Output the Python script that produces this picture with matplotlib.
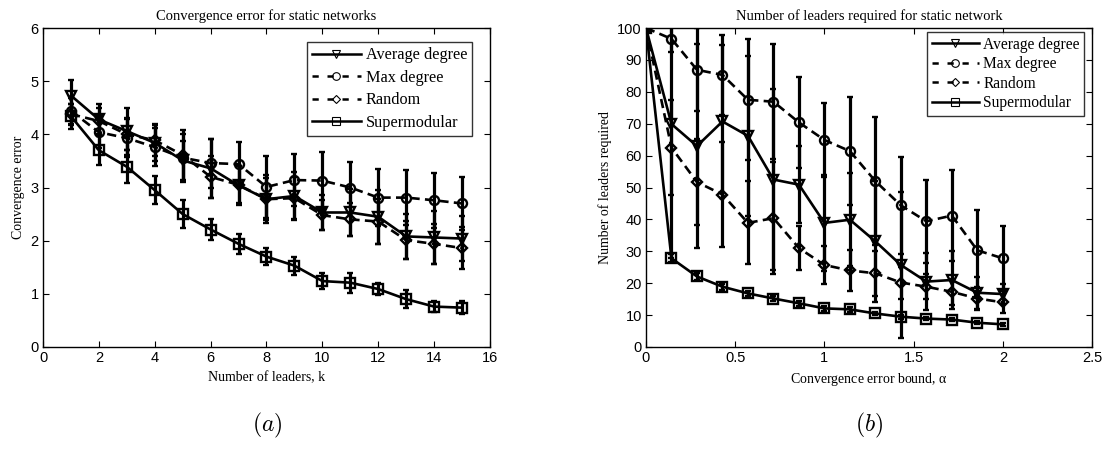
import numpy as np
import matplotlib
matplotlib.use('Agg')
import matplotlib.pyplot as plt
from matplotlib.lines import Line2D

# ---------------- data (a): convergence error vs number of leaders
k = [1, 2, 3, 4, 5, 6, 7, 8, 9, 10, 11, 12, 13, 14, 15]
avg_a = [4.73, 4.28, 4.06, 3.84, 3.51, 3.36, 3.04, 2.78, 2.84, 2.53, 2.53, 2.45, 2.08, 2.06, 2.04]
avg_a_err = [0.30, 0.30, 0.44, 0.34, 0.36, 0.55, 0.37, 0.45, 0.45, 0.33, 0.44, 0.51, 0.43, 0.50, 0.42]
max_a = [4.44, 4.04, 3.93, 3.76, 3.56, 3.46, 3.44, 3.01, 3.14, 3.13, 3.00, 2.81, 2.81, 2.76, 2.70]
max_a_err = [0.25, 0.30, 0.35, 0.35, 0.45, 0.46, 0.42, 0.58, 0.49, 0.53, 0.48, 0.53, 0.52, 0.52, 0.49]
rnd_a = [4.38, 4.25, 4.00, 3.89, 3.61, 3.20, 3.05, 2.78, 2.80, 2.48, 2.40, 2.36, 2.01, 1.94, 1.86]
rnd_a_err = [0.20, 0.25, 0.30, 0.30, 0.48, 0.39, 0.35, 0.40, 0.40, 0.28, 0.31, 0.42, 0.36, 0.38, 0.40]
sup_a = [4.34, 3.70, 3.39, 2.95, 2.50, 2.21, 1.94, 1.70, 1.53, 1.24, 1.21, 1.09, 0.90, 0.76, 0.74]
sup_a_err = [0.24, 0.27, 0.31, 0.26, 0.26, 0.20, 0.19, 0.16, 0.17, 0.15, 0.19, 0.12, 0.17, 0.11, 0.12]

# ---------------- data (b): leaders required vs error bound alpha
alpha = [0, 1/7, 2/7, 3/7, 4/7, 5/7, 6/7, 1, 8/7, 9/7, 10/7, 11/7, 12/7, 13/7, 2]
avg_b = [100, 69.9, 63.0, 70.7, 66.2, 52.5, 50.9, 38.9, 39.9, 33.1, 25.7, 20.5, 21.0, 17.0, 16.6]
avg_b_err = [0, 42, 32, 24, 25, 28.5, 12, 15, 14.5, 19, 23, 9, 9, 5, 3]
max_b = [100, 96.6, 86.9, 85.3, 77.5, 76.9, 70.4, 64.9, 61.4, 52.0, 44.4, 39.4, 41.2, 30.3, 27.8]
max_b_err = [0, 4, 13, 12.5, 19, 18, 14.4, 11.6, 17, 20, 15.3, 13, 14.3, 12.6, 10]
rnd_b = [100, 62.5, 51.7, 47.8, 38.9, 40.4, 31.0, 25.7, 24.0, 23.1, 20.2, 18.9, 17.3, 15.2, 14.0]
rnd_b_err = [0, 15, 13.5, 16.5, 13, 17.5, 7, 6, 6.5, 7, 5, 4, 4, 3.5, 3.5]
sup_b = [100, 27.8, 22.1, 18.9, 16.8, 15.2, 13.7, 12.1, 11.8, 10.5, 9.5, 8.9, 8.6, 7.6, 7.1]
sup_b_err = [0, 1.2, 1.0, 0.9, 0.8, 0.8, 0.8, 0.7, 0.7, 0.6, 0.6, 0.5, 0.5, 0.5, 0.5]

names = ['Average degree', 'Max degree', 'Random', 'Supermodular']

plt.rcParams['font.family'] = ['Liberation Serif', 'DejaVu Serif']
plt.rcParams['mathtext.fontset'] = 'cm'
tickfont = ['Liberation Sans', 'DejaVu Sans']

fig = plt.figure(figsize=(11.09, 4.55), dpi=100)
ax1 = fig.add_axes([0.0388, 0.2374, 0.403, 0.701])
ax2 = fig.add_axes([0.5825, 0.2374, 0.4022, 0.701])

styles = [('v', '-'), ('o', '--'), ('D', '--'), ('s', '-')]
DASH = (3.5, 2)


def draw(ax, x, series, anchor, fsize, spacing):
    handles = []
    for (y, e), (m, ls), name in zip(series, styles, names):
        ms = 6.5 if m != 'D' else 5.5
        dsh = DASH if ls == '--' else (None, None)
        ax.errorbar(x, y, yerr=e, color='black', lw=1.9, ls=ls, dashes=dsh,
                    marker=m, ms=ms, mfc='none', mec='black', mew=1.7,
                    elinewidth=2.3, capsize=2.5, capthick=2.3)
        h = Line2D([], [], color='black', lw=1.8, ls=ls, marker=m,
                   ms=ms - 1, mfc='none', mec='black', mew=0.8, label=name)
        if ls == '--':
            h.set_dashes((2.5, 3.5))
        handles.append(h)
    for s in ax.spines.values():
        s.set_linewidth(1.0)
    ax.tick_params(direction='in', top=True, right=True, length=4, width=0.8, pad=3)
    leg = ax.legend(handles=handles, loc='upper right', bbox_to_anchor=anchor, fontsize=fsize,
                    frameon=True, fancybox=False, edgecolor='black', handlelength=3.0,
                    handletextpad=0.3, borderpad=0.3, labelspacing=spacing, borderaxespad=0.0)
    leg.get_frame().set_linewidth(1.0)


draw(ax1, k, [(avg_a, avg_a_err), (max_a, max_a_err), (rnd_a, rnd_a_err), (sup_a, sup_a_err)],
     (0.96, 0.955), 11.7, 0.4)
ax1.set_xlim(0, 16)
ax1.set_ylim(0, 6)
ax1.set_xticks(range(0, 17, 2))
ax1.set_yticks(range(0, 7))
for lab in ax1.get_xticklabels() + ax1.get_yticklabels():
    lab.set_family(tickfont)
    lab.set_fontsize(10.5)
ax1.set_title('Convergence error for static networks', fontsize=10.5, pad=6)
ax1.set_xlabel('Number of leaders, k', fontsize=10, labelpad=4)
ax1.set_ylabel('Convergence error', fontsize=10, labelpad=4)

draw(ax2, alpha, [(avg_b, avg_b_err), (max_b, max_b_err), (rnd_b, rnd_b_err), (sup_b, sup_b_err)],
     (0.983, 0.987), 11.2, 0.22)
ax2.set_xlim(0, 2.5)
ax2.set_ylim(0, 100)
ax2.set_xticks([0, 0.5, 1, 1.5, 2, 2.5])
ax2.set_xticklabels(['0', '0.5', '1', '1.5', '2', '2.5'])
ax2.set_yticks(range(0, 101, 10))
for lab in ax2.get_xticklabels() + ax2.get_yticklabels():
    lab.set_family(tickfont)
    lab.set_fontsize(10.5)
ax2.set_title('Number of leaders required for static network', fontsize=10.5, pad=6)
ax2.set_xlabel(r'Convergence error bound, $\mathregular{\alpha}$', fontsize=10, labelpad=4)
ax2.set_ylabel('Number of leaders required', fontsize=10, labelpad=4)

fig.text(0.241, 0.065, r'$(a)$', fontsize=17, ha='center', va='center')
fig.text(0.784, 0.065, r'$(b)$', fontsize=17, ha='center', va='center')

fig.savefig('out.png', dpi=100)
